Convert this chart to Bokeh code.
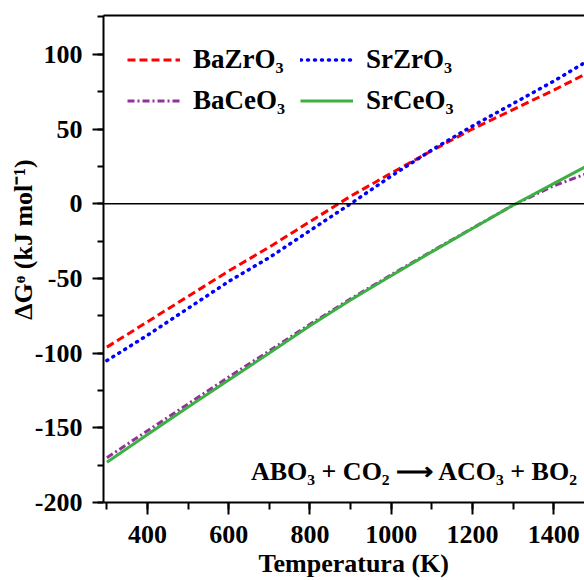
from bokeh.plotting import figure
from bokeh.models import (Range1d, SingleIntervalTicker, LinearAxis, Span, Label,
                          Legend, LegendItem, ColumnDataSource, CustomJSTickFormatter)
from bokeh.embed import file_html
from bokeh.resources import INLINE

# Data
temperature = [300, 400, 500, 600, 700, 800, 900, 1000, 1100, 1200, 1300, 1400, 1480]
bazro3 = [-96, -79, -62, -45, -29, -12, 5, 20.5, 35.5, 50, 63, 76, 87]
srzro3 = [-105, -88, -70, -52, -36, -18, 0, 18.5, 36, 52, 67, 82, 95]
baceo3 = [-170, -152, -134, -116, -98.5, -80.7, -63.7, -47.6, -31.8, -16.4, -1, 12, 20]
srceo3 = [-173, -154.5, -136, -118, -100, -81.7, -64.5, -48.2, -32.2, -16.6, -1, 13.5, 25]

series_names = ["BaZrO₃", "SrZrO₃", "BaCeO₃", "SrCeO₃"]
x_title = "Temperatura (K)"
y_title = "ΔGᶱ (kJ mol⁻¹)"
reaction = "ABO₃ + CO₂ ⟶ ACO₃ + BO₂"

FONT = "Liberation Serif"
NB = "\u00a0"

src = ColumnDataSource(dict(T=temperature, bz=bazro3, sz=srzro3, bc=baceo3, sc=srceo3))

p = figure(width=584, height=580, output_backend="svg", toolbar_location=None,
           x_range=Range1d(291.6, 1476), y_range=Range1d(-200, 126),
           min_border_left=103, min_border_right=0, min_border_top=15, min_border_bottom=76)
p.outline_line_color = None
p.grid.visible = False

# zero line
p.add_layout(Span(location=0, dimension="width", line_color="black", line_width=1.5))

r_bz = p.line("T", "bz", source=src, line_color="#ff0000", line_width=3, line_dash="8 4")
r_sz = p.line("T", "sz", source=src, line_color="#0000ff", line_width=3.5, line_dash="1 6",
              line_cap="round")
r_bc = p.line("T", "bc", source=src, line_color="#93309b", line_width=3, line_dash="7 3 2 3")
r_sc = p.line("T", "sc", source=src, line_color="#3cb043", line_width=3)

# axes
fmt = CustomJSTickFormatter(code="return tick.toFixed(0);")
xa = p.xaxis[0]
xa.ticker = SingleIntervalTicker(interval=200, num_minor_ticks=2)
xa.axis_label = NB * 3 + x_title
ya = p.yaxis[0]
ya.ticker = SingleIntervalTicker(interval=50, num_minor_ticks=2)
ya.axis_label = NB * 6 + y_title

for ax, mt, mn in ((xa, 12, 7), (ya, 11, 6)):
    ax.formatter = fmt
    ax.axis_line_width = 2
    ax.major_tick_line_width = 2
    ax.minor_tick_line_width = 2
    ax.major_tick_in = 0
    ax.major_tick_out = mt
    ax.minor_tick_in = 0
    ax.minor_tick_out = mn
    ax.major_label_text_font = FONT
    ax.major_label_text_font_style = "bold"
    ax.major_label_text_font_size = "26px"
    ax.major_label_text_color = "black"
    ax.axis_label_text_font = FONT
    ax.axis_label_text_font_style = "bold"
    ax.axis_label_text_font_size = "26px"
    ax.axis_label_text_color = "black"
xa.major_label_standoff = 11
xa.axis_label_standoff = 3
ya.major_label_standoff = 10
ya.axis_label_standoff = -6

top = LinearAxis(ticker=[], axis_line_width=2, major_tick_out=0, minor_tick_out=0,
                 major_label_text_font_size="0px", major_label_standoff=0)
p.add_layout(top, "above")

# legend (column-major order: left column, then right column)
legend = Legend(items=[LegendItem(label=series_names[0], renderers=[r_bz]),
                       LegendItem(label=series_names[2], renderers=[r_bc]),
                       LegendItem(label=series_names[1], renderers=[r_sz]),
                       LegendItem(label=series_names[3], renderers=[r_sc])],
                ncols=2, location="top_left", margin=24, padding=0, spacing=0,
                glyph_width=53, glyph_height=41, label_height=41, label_width=107,
                label_standoff=13, border_line_color=None, background_fill_alpha=0,
                label_text_font=FONT, label_text_font_style="bold",
                label_text_font_size="27px", label_text_color="black")
p.add_layout(legend)

p.add_layout(Label(x=1461, y=-179.3, text=reaction, text_align="right",
                   text_baseline="alphabetic",
                   text_font=FONT, text_font_style="bold", text_font_size="26px",
                   text_color="black"))

open("out.html", "w").write(file_html(p, INLINE))
